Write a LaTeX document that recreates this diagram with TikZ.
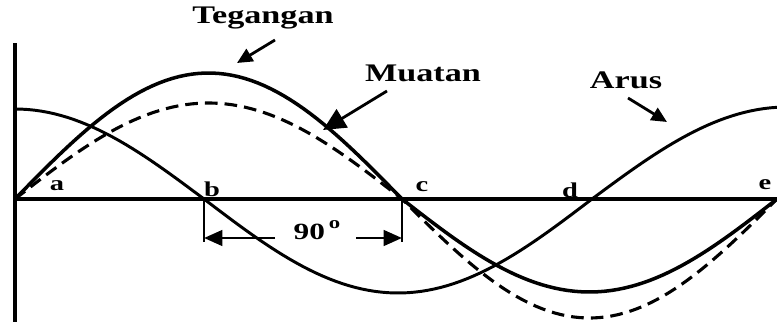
\documentclass[tikz,border=0pt]{standalone}
\usepackage{fontspec}
\setmainfont{Liberation Serif}[FakeStretch=1.35]
\usetikzlibrary{arrows.meta}

\begin{document}
\begin{tikzpicture}[x=0.025cm,y=-0.025cm,
  curve/.style={line width=2.5pt},
  title/.style={font=\bfseries\fontsize{18}{20}\selectfont},
  pt/.style={font=\bfseries\fontsize{15}{17}\selectfont},
  pointer/.style={line width=2pt,-{Triangle[length=11pt,width=10pt]}},
  dim/.style={line width=2pt,-{Triangle[length=13pt,width=11pt]}}]
\useasboundingbox (0,0) rectangle (777,322);
% axes
\draw[line width=2.8pt] (15,43) -- (15,322);
\draw[line width=2.2pt] (15,199) -- (777,199);
% tegangan
\draw[curve] plot[domain=15:402,samples=60] (\x,{199-126*sin((\x-15)/387*180)})
  -- plot[domain=402:777,samples=60] (\x,{199+93*sin((\x-402)/375*180)});
% muatan
\draw[line width=2.2pt,dash pattern=on 9pt off 5pt] plot[domain=15:402,samples=60] (\x,{199-96*sin((\x-15)/387*180)})
  -- plot[domain=402:777,samples=60] (\x,{199+119*sin((\x-402)/375*180)});
% arus
\draw[line width=2.1pt] plot[domain=15:204,samples=30] (\x,{199-90*cos((\x-15)/189*90)})
  -- plot[domain=204:592,samples=60] (\x,{199+94*sin((\x-204)/388*180)})
  -- plot[domain=592:777,samples=30] (\x,{199-92*sin((\x-592)/195*90)});
% points on the axis
\node[pt] (a) at (57,186) {a};
\node[pt] (b) at (212,189) {b};
\node[pt] (c) at (422,187) {c};
\node[pt] (d) at (570,190) {d};
\node[pt] (e) at (765,185) {e};
\coordinate (pb) at (204,199);
\coordinate (pc) at (402,199);
% 90 degree
\draw[line width=1.6pt] (pb) -- ++(0,43);
\draw[line width=1.6pt] (pc) -- ++(0,43);
\node[font=\bfseries\fontsize{16.5}{18}\selectfont] (deg) at (317,230) {90\,\raisebox{1.1ex}{\fontsize{12}{13}\selectfont o}};
\coordinate (dl) at (275,238);
\coordinate (dr) at (356,238);
\draw[dim] (dl) -- (dl -| pb);
\draw[dim] (dr) -- (dr -| pc);
% labels
\node[title] (tegangan) at (263,18) {Tegangan};
\node[title] (muatan) at (423,73) {Muatan};
\node[title] (arus) at (626,80) {Arus};
\coordinate (tegtail) at (275,40);
\coordinate (tegtip) at (237,63);
\coordinate (muatail) at (387,91);
\coordinate (muatip) at (323,130);
\coordinate (arustail) at (628,98);
\coordinate (arustip) at (667,122);
\draw[pointer] (tegtail) -- (tegtip);
\draw[pointer,-{Triangle[length=16pt,width=15pt]}] (muatail) -- (muatip);
\draw[pointer] (arustail) -- (arustip);
\end{tikzpicture}
\end{document}
